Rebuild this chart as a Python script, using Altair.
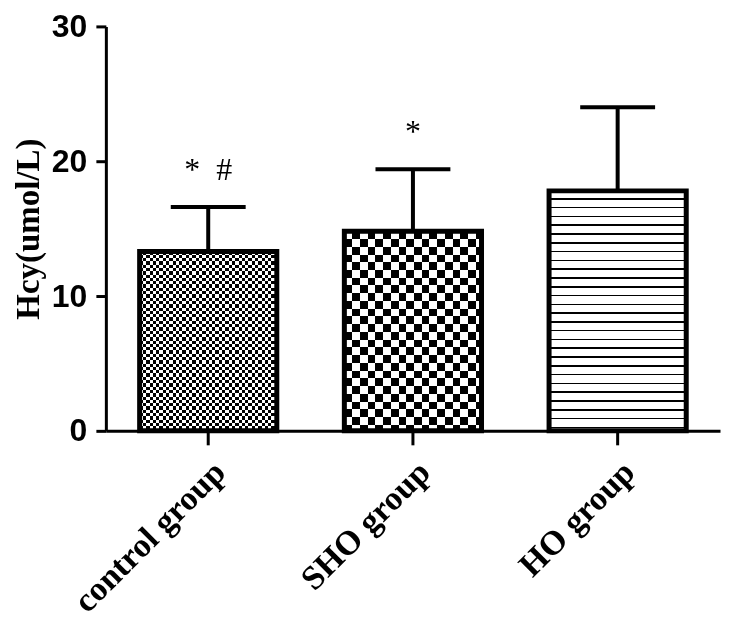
import math
import altair as alt
import pandas as pd

# ---- data ----
groups = ["control group", "SHO group", "HO group"]
means = [13.3, 14.8, 17.8]
uppers = [16.6, 19.4, 24.0]
notes = ["*\u00a0\u00a0#", "*", ""]
y_ticks = [0, 10, 20, 30]

df = pd.DataFrame({"group": groups, "mean": means, "upper": uppers, "note": notes})

# ---- layout ----
W, H = 615, 405
Y_MAX = 30
P_IN = 0.33
P_OUT = P_IN / 2
BAR_W = W / len(groups) * (1 - P_IN)


def bar_h(v):
    return v / Y_MAX * H


def stripes(period_px, extent_px, c1, c2, frac1=0.5, vertical=True):
    """Hard-stop linear gradient producing stripes (style only)."""
    p = period_px / extent_px
    stops = []
    k = 0
    while k * p < 1:
        a = k * p
        m = min(a + p * frac1, 1)
        b = min(a + p, 1)
        stops += [
            {"offset": round(a, 5), "color": c1},
            {"offset": round(m, 5), "color": c1},
            {"offset": round(m, 5), "color": c2},
            {"offset": round(b, 5), "color": c2},
        ]
        k += 1
    g = {"gradient": "linear", "stops": stops, "x1": 0, "y1": 0}
    if vertical:  # stripes vary along x
        g.update({"x2": 1, "y2": 0})
    else:  # stripes vary along y
        g.update({"x2": 0, "y2": 1})
    return g


CLEAR = "rgba(255,255,255,0)"

x_scale = alt.Scale(paddingInner=P_IN, paddingOuter=P_OUT)
x_enc = alt.X(
    "group:N",
    sort=groups,
    scale=x_scale,
    title=None,
    axis=alt.Axis(
        labelAngle=-45,
        labelFont="Liberation Serif",
        labelFontWeight="bold",
        labelFontSize=34,
        labelColor="black",
        labelPadding=10,
        labelLimit=0,
        tickSize=14,
        tickWidth=3,
        tickColor="black",
        domainWidth=3,
        domainColor="black",
        grid=False,
    ),
)
x_plain = alt.X("group:N", sort=groups, scale=x_scale)
y_scale = alt.Scale(domain=[0, Y_MAX], nice=False)
y_enc = alt.Y(
    "mean:Q",
    scale=y_scale,
    title="Hcy(umol/L)",
    axis=alt.Axis(
        values=y_ticks,
        labelFont="Liberation Sans",
        labelFontWeight="bold",
        labelFontSize=32,
        labelColor="black",
        labelPadding=9,
        tickSize=10,
        tickWidth=3,
        tickColor="black",
        domainWidth=3,
        domainColor="black",
        titleFont="Liberation Serif",
        titleFontWeight="bold",
        titleFontSize=33,
        titleColor="black",
        titlePadding=6,
        grid=False,
    ),
)
y_plain = alt.Y("mean:Q", scale=y_scale)

base = alt.Chart(df)


def only(g):
    return alt.datum.group == g


layers = []

# control group: fine checker
g0 = groups[0]
layers.append(
    base.transform_filter(only(g0)).mark_bar(
        fill=stripes(6.6, BAR_W, "black", "white", vertical=True), strokeWidth=0
    ).encode(x=x_enc, y=y_enc)
)
layers.append(
    base.transform_filter(only(g0)).mark_bar(
        fill=stripes(6.6, bar_h(means[0]), "white", CLEAR, vertical=False),
        strokeWidth=0,
        blend="difference",
    ).encode(x=x_plain, y=y_plain)
)

# SHO group: coarse checker
g1 = groups[1]
layers.append(
    base.transform_filter(only(g1)).mark_bar(
        fill=stripes(15.5, BAR_W, "black", "white", vertical=True), strokeWidth=0
    ).encode(x=x_plain, y=y_plain)
)
layers.append(
    base.transform_filter(only(g1)).mark_bar(
        fill=stripes(15.5, bar_h(means[1]), "white", CLEAR, vertical=False),
        strokeWidth=0,
        blend="difference",
    ).encode(x=x_plain, y=y_plain)
)

# HO group: horizontal lines
g2 = groups[2]
layers.append(
    base.transform_filter(only(g2)).mark_bar(
        fill=stripes(8.8, bar_h(means[2]), "white", "black", frac1=0.82, vertical=False),
        strokeWidth=0,
    ).encode(x=x_plain, y=y_plain)
)

# bar outlines
layers.append(
    base.mark_bar(fillOpacity=0, stroke="black", strokeWidth=5).encode(x=x_plain, y=y_plain)
)

# error bars (upper only)
layers.append(
    base.mark_rule(color="black", strokeWidth=4).encode(x=x_plain, y=y_plain, y2="upper:Q")
)
layers.append(
    base.mark_tick(color="black", size=75, thickness=4, opacity=1).encode(
        x=x_plain, y=alt.Y("upper:Q", scale=y_scale)
    )
)

# significance marks
layers.append(
    base.mark_text(
        font="Liberation Serif", fontSize=32, color="black", baseline="middle", dy=-37
    ).encode(x=x_plain, y=alt.Y("upper:Q", scale=y_scale), text="note:N")
)

chart = (
    alt.layer(*layers)
    .properties(
        width=W,
        height=H,
        padding={"left": 4, "top": 2, "right": 5, "bottom": 5},
        background="white",
    )
    .configure_view(strokeWidth=0)
)

chart.save("out.html", embed_options={"renderer": "svg", "actions": False})
